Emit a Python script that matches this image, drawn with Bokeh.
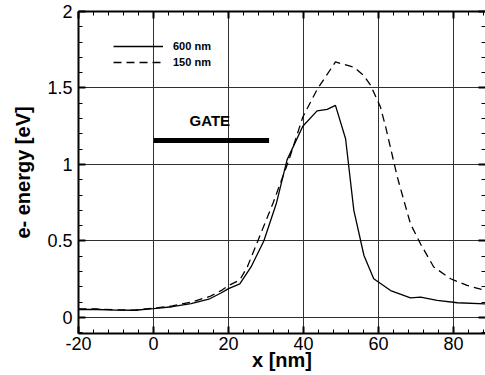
from bokeh.plotting import figure
from bokeh.models import (LinearAxis, FixedTicker, Legend, LegendItem, Range1d,
                          CustomJSTickFormatter)
from bokeh.core.properties import value
from bokeh.embed import file_html
from bokeh.resources import INLINE

# ---- data ----
x600 = [-20, -15, -10, -5, 0, 5, 10, 15, 18, 20, 23, 26, 29.4, 32.8, 35.6,
        39.8, 43.6, 46.3, 48.5, 51.2, 53.4, 56.1, 58.7, 63.2, 68.5, 71.2,
        75.6, 81, 88.5]
y600 = [0.052, 0.052, 0.048, 0.047, 0.058, 0.07, 0.09, 0.122, 0.16, 0.188,
        0.22, 0.33, 0.5, 0.75, 1.03, 1.25, 1.35, 1.36, 1.386, 1.168, 0.70,
        0.405, 0.253, 0.176, 0.128, 0.133, 0.111, 0.096, 0.089]

x150 = [-20, -15, -10, -5, 0, 5, 10, 15, 18, 20, 23, 25, 27.8, 31.9, 36.1,
        39.8, 43.6, 48.5, 53.4, 56.1, 57.9, 60.5, 61.9, 65, 68.5, 71.2,
        74.7, 79.2, 83.6, 88.5]
y150 = [0.055, 0.055, 0.05, 0.048, 0.06, 0.075, 0.1, 0.137, 0.175, 0.209,
        0.245, 0.33, 0.5, 0.75, 1.03, 1.31, 1.49, 1.67, 1.636, 1.58, 1.516,
        1.375, 1.244, 0.917, 0.612, 0.48, 0.33, 0.253, 0.209, 0.176]

series_labels = ["600 nm", "150 nm"]

gate_x = [0, 30.8]
gate_y = 1.157
gate_label = "GATE"
gate_label_x = 15
gate_label_y = 1.235

x_major = [-20, 0, 20, 40, 60, 80]
x_labels = {-20: "-20", 0: "0", 20: "20", 40: "40", 60: "60", 80: "80"}
x_minor = [v for v in range(-20, 89, 4)]
y_major = [0, 0.5, 1, 1.5, 2]
y_labels = {0: "0", 0.5: "0.5", 1: "1", 1.5: "1.5", 2: "2"}
y_minor = [round(-0.1 + 0.1 * i, 1) for i in range(22)]

x_title = "x [nm]"
y_title = "e- energy [eV]"

FONT = "Liberation Sans"

p = figure(width=485, height=375, output_backend="svg", toolbar_location=None,
           x_range=Range1d(-20, 88.5), y_range=Range1d(-0.105, 2.0),
           x_axis_location=None, y_axis_location=None,
           min_border_left=78, min_border_right=0, min_border_top=11,
           min_border_bottom=42)
p.outline_line_color = None
p.background_fill_color = "white"

xt = FixedTicker(ticks=x_major, minor_ticks=x_minor)
yt = FixedTicker(ticks=y_major, minor_ticks=y_minor)
blank = CustomJSTickFormatter(code="return ''")


def style(ax):
    ax.axis_line_width = 2
    ax.axis_line_color = "black"
    ax.major_tick_in = 7
    ax.major_tick_out = 0
    ax.minor_tick_in = 4
    ax.minor_tick_out = 0
    ax.major_tick_line_width = 2
    ax.minor_tick_line_width = 1
    ax.major_label_text_font = FONT
    ax.major_label_text_font_size = "18px"
    ax.major_label_text_color = "black"
    ax.axis_label_text_font = FONT
    ax.axis_label_text_font_size = "20px"
    ax.axis_label_text_font_style = "bold"
    ax.axis_label_text_color = "black"


bottom = LinearAxis(ticker=xt, axis_label=x_title, major_label_overrides=x_labels)
style(bottom)
bottom.major_label_standoff = 3
bottom.axis_label_standoff = -4
p.add_layout(bottom, "below")

left = LinearAxis(ticker=yt, axis_label=y_title, major_label_overrides=y_labels)
style(left)
left.major_label_standoff = 6
left.axis_label_standoff = 10
p.add_layout(left, "left")

top = LinearAxis(ticker=xt, formatter=blank)
style(top)
top.major_label_standoff = 0
p.add_layout(top, "above")

right = LinearAxis(ticker=yt, formatter=blank)
style(right)
right.major_label_standoff = 0
right.axis_line_color = None
p.add_layout(right, "right")

p.xgrid.ticker = xt
p.ygrid.ticker = yt
for g in (p.xgrid, p.ygrid):
    g.grid_line_color = "#303030"
    g.grid_line_width = 1

r1 = p.line(x600, y600, line_color="black", line_width=1.3)
r2 = p.line(x150, y150, line_color="black", line_width=1.3, line_dash="8 5")

p.line(gate_x, [gate_y, gate_y], line_color="black", line_width=5,
       line_cap="butt")
p.text(x=[gate_label_x], y=[gate_label_y], text=[gate_label],
       text_font=value(FONT), text_font_size="15px", text_font_style="bold",
       text_align="center", text_baseline="bottom", text_color="black")

legend = Legend(items=[LegendItem(label=series_labels[0], renderers=[r1]),
                       LegendItem(label=series_labels[1], renderers=[r2])],
                location=(35, 263), glyph_width=50, glyph_height=16,
                label_height=16, spacing=0, padding=0, margin=0,
                label_standoff=10, border_line_color=None,
                background_fill_alpha=0,
                label_text_font=FONT, label_text_font_size="11px",
                label_text_font_style="bold", label_text_color="black")
p.add_layout(legend)

open("out.html", "w").write(file_html(p, INLINE))
